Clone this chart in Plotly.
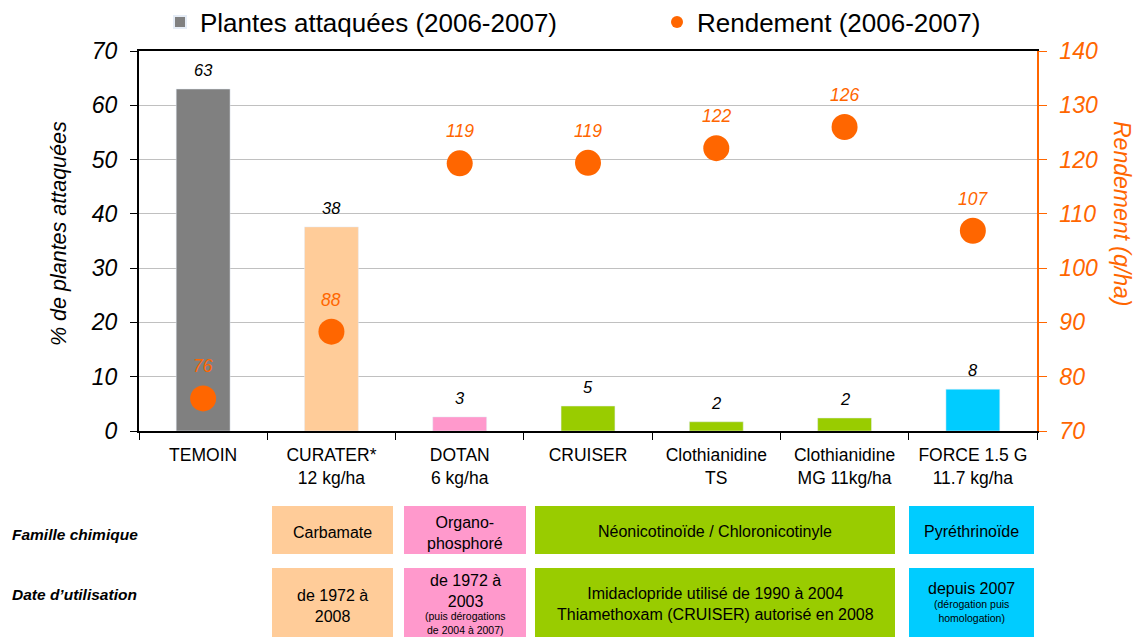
import plotly.graph_objects as go

categories = ["TEMOIN", "CURATER*<br>12 kg/ha", "DOTAN<br>6 kg/ha", "CRUISER",
              "Clothianidine<br>TS", "Clothianidine<br>MG 11kg/ha", "FORCE 1.5 G<br>11.7 kg/ha"]
plantes = [63, 37.6, 2.6, 4.6, 1.7, 2.4, 7.7]
plantes_labels = ["63", "38", "3", "5", "2", "2", "8"]
rendement = [76, 88.3, 119.3, 119.4, 122.1, 126.0, 106.9]
rendement_labels = ["76", "88", "119", "119", "122", "126", "107"]
bar_colors = ["#808080", "#FFCC99", "#FF99CC", "#99CC00", "#99CC00", "#99CC00", "#00CCFF"]

famille = ["Carbamate", "Organo-<br>phosphoré", "Néonicotinoïde / Chloronicotinyle", "Pyréthrinoïde"]
dates_main = ["de 1972 à<br>2008", "de 1972 à<br>2003",
              "Imidaclopride utilisé de 1990 à 2004<br>Thiamethoxam (CRUISER) autorisé en 2008",
              "depuis 2007"]
dates_small = ["", "(puis dérogations<br>de 2004 à 2007)", "", "(dérogation puis<br>homologation)"]
group_colors = ["#FFCC99", "#FF99CC", "#99CC00", "#00CCFF"]

W, H = 1144, 637
OFF = 8  # page body margin
# plot area in page pixels
L, R, T, B = 139, 1037, 51, 431
ORANGE = "#FF6600"
FONT = "Arial, Liberation Sans, sans-serif"


def px(x):
    return (x - L) / (R - L)


def py(y):
    return (B - y) / (B - T)


fig = go.Figure()
fig.add_trace(go.Bar(
    x=categories, y=plantes, marker_color=bar_colors, width=0.42,
    name="Plantes attaquées (2006-2007)", yaxis="y", legend="legend",
))
fig.add_trace(go.Scatter(
    x=categories, y=rendement, mode="markers", yaxis="y2", legend="legend2",
    marker=dict(color=ORANGE, size=26),
    name="Rendement (2006-2007)",
))

annotations = []
for c, v, t in zip(categories, plantes, plantes_labels):
    annotations.append(dict(x=c, y=v, xref="x", yref="y", text=t, showarrow=False,
                            yshift=19, font=dict(family=FONT, size=16.5, color="black", style="italic")))
for c, v, t in zip(categories, rendement, rendement_labels):
    annotations.append(dict(x=c, y=v, xref="x", yref="y2", text=t, showarrow=False,
                            yshift=32, font=dict(family=FONT, size=17.5, color=ORANGE, style="italic")))


def note(xp, yp, text, size, color="black", angle=0, xanchor="center", **kw):
    annotations.append(dict(x=px(xp), y=py(yp), xref="paper", yref="paper", text=text,
                            showarrow=False, align="center", xanchor=xanchor, yanchor="middle",
                            textangle=angle, font=dict(family=FONT, size=size, color=color, **kw)))


# Table below chart (page pixel geometry)
row1 = (506, 554)
row2 = (568, 645)
box_x = [(272, 393), (404, 526), (535, 895), (909, 1034)]
fam_y = [532, 533, 531, 531]
main_y = [606, 591, 604, 588]
small_y = [0, 623, 0, 611]
shapes = []
for i, ((x0, x1), col) in enumerate(zip(box_x, group_colors)):
    xc = (x0 + x1) / 2
    for (y0, y1) in (row1, row2):
        shapes.append(dict(type="rect", xref="paper", yref="paper",
                           x0=px(x0), x1=px(x1), y0=py(y1), y1=py(y0),
                           fillcolor=col, line=dict(width=0), layer="below"))
    note(xc, fam_y[i], famille[i], 16)
    note(xc, main_y[i], dates_main[i], 16)
    if dates_small[i]:
        note(xc, small_y[i], dates_small[i], 10.5)

note(10, 534, "<b><i>Famille chimique</i></b>", 15.5, xanchor="left")
note(10, 594, "<b><i>Date d’utilisation</i></b>", 15.5, xanchor="left")

# axis titles
note(59, 234, "% de plantes attaquées", 21.5, angle=-90, style="italic")
note(1122, 213, "Rendement (q/ha)", 23, color=ORANGE, angle=90, style="italic")

legend_common = dict(orientation="h", xanchor="left", yanchor="middle", yref="paper",
                     font=dict(family=FONT, size=26, color="black"), itemsizing="constant",
                     bgcolor="rgba(0,0,0,0)", borderwidth=0)

fig.update_layout(
    width=W, height=H,
    margin=dict(l=L - OFF, r=W - (R - OFF), t=T - OFF, b=H - (B - OFF), autoexpand=False),
    paper_bgcolor="white", plot_bgcolor="white",
    font=dict(family=FONT, color="black"),
    showlegend=True,
    legend=dict(x=px(160), y=py(22), **legend_common),
    legend2=dict(x=px(657), y=py(22), **legend_common),
    xaxis=dict(
        type="category", showline=True, linecolor="black", linewidth=2, mirror=True,
        ticks="outside", tickson="boundaries", ticklen=7, tickcolor="black",
        ticklabelstandoff=7,
        tickfont=dict(family=FONT, size=17.5, color="black"), showgrid=False,
    ),
    yaxis=dict(
        range=[0, 70], dtick=10, showline=True, linecolor="black", linewidth=2,
        ticks="outside", ticklen=7, tickcolor="black", showgrid=True, gridcolor="#C0C0C0",
        gridwidth=1, zeroline=False, ticklabelstandoff=8,
        tickfont=dict(family=FONT, size=23, color="black", style="italic"),
    ),
    yaxis2=dict(
        range=[70, 140], dtick=10, overlaying="y", side="right", showline=True,
        linecolor=ORANGE, linewidth=1.5, ticks="outside", ticklen=8, tickcolor=ORANGE,
        showgrid=False, zeroline=False, ticklabelstandoff=8,
        tickfont=dict(family=FONT, size=23, color=ORANGE, style="italic"),
    ),
    annotations=annotations,
    shapes=shapes,
)

fig.write_html("out.html")
